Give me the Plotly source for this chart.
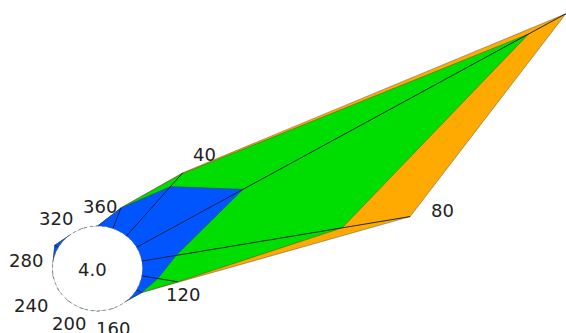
import numpy as np
import plotly.graph_objects as go

# direction in degrees, clockwise from north
theta = [0, 20, 40, 60, 80, 100, 120, 140, 160, 180, 200, 220, 240, 260, 280, 300, 320, 340]

# radial extent of each band, 4.0 is the inner circle
blue = [4.0, 6.08, 10.09, 14.95, 7.09, 5.45, 4.54, 4.0, 4.0, 4.0, 4.0, 4.0, 4.0, 4.0, 4.0, 4.38, 4.0, 4.0]
green = [4.0, 6.08, 11.65, 44.25, 22.08, 7.25, 4.54, 4.0, 4.0, 4.0, 4.0, 4.0, 4.0, 4.0, 4.0, 4.38, 4.0, 4.0]
orange = [4.0, 6.08, 11.79, 48.07, 28.22, 7.25, 4.54, 4.0, 4.0, 4.0, 4.0, 4.0, 4.0, 4.0, 4.0, 4.38, 4.0, 4.0]

tick_labels = ["40", "80", "120", "160", "200", "240", "280", "320", "360"]
center_label = "4.0"
inner_radius = 4.0

W, H = 566, 333
CX, CY = 97.5, 268.5    # centre of the rose on the page
SX, SY = 11.25, 10.6    # pixels per radial unit
LABEL_PX = [(204, 154), (442, 210), (183, 294), (113, 328), (69, 323),
            (31, 305), (26, 260), (56, 218), (100, 206)]


def toXY(r, t):
    rad = np.radians(t)
    return np.array(r) * np.sin(rad), np.array(r) * np.cos(rad)


def band(r, color):
    x, y = toXY(r + r[:1], theta + theta[:1])
    return go.Scatter(x=x, y=y, mode="lines", fill="toself", fillcolor=color,
                      line=dict(color="#333333", width=0.4), hoverinfo="skip")


fig = go.Figure()
fig.add_trace(band(orange, "#FFAA00"))
fig.add_trace(band(green, "#00DD00"))
fig.add_trace(band(blue, "#0055FF"))

# spokes, from the inner circle out to the outer band
for t, r in zip(theta, orange):
    if r > inner_radius:
        x, y = toXY([inner_radius, r], [t, t])
        fig.add_trace(go.Scatter(x=x, y=y, mode="lines",
                                 line=dict(color="#0a1a30", width=0.9), hoverinfo="skip"))

fig.add_shape(type="circle", xref="x", yref="y", layer="above",
              x0=-inner_radius, x1=inner_radius, y0=-inner_radius, y1=inner_radius,
              fillcolor="white", line=dict(color="#777777", width=0.8, dash="dot"))

font = dict(family="DejaVu Sans", size=18, color="#222222")
for text, (px, py) in zip(tick_labels, LABEL_PX):
    fig.add_annotation(x=px / W, y=1 - py / H, xref="paper", yref="paper", text=text,
                       showarrow=False, xanchor="center", yanchor="middle", font=font)
fig.add_annotation(x=92 / W, y=1 - 269 / H, xref="paper", yref="paper", text=center_label,
                   showarrow=False, xanchor="center", yanchor="middle", font=font)

fig.update_layout(width=W, height=H, margin=dict(l=0, r=0, t=0, b=0),
                  paper_bgcolor="white", plot_bgcolor="white", showlegend=False,
                  xaxis=dict(visible=False, range=[-CX / SX, (W - CX) / SX]),
                  yaxis=dict(visible=False, range=[-(H - CY) / SY, CY / SY]))

fig.write_html("out.html", config=dict(displayModeBar=False),
               post_script="document.body.style.margin = '0';")
